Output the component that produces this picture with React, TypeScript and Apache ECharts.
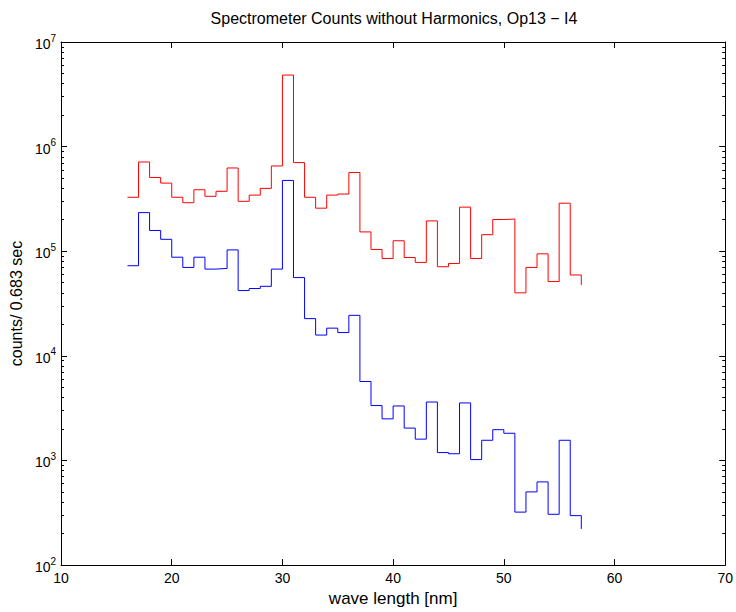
import React, { useEffect, useRef } from "react";
import * as echarts from "echarts";

// wavelength bin edges [nm]
const wavelengths = [
  16, 17, 18, 19, 20, 21, 22, 23, 24, 25, 26, 27, 28, 29, 30, 31, 32, 33, 34, 35, 36,
  37, 38, 39, 40, 41, 42, 43, 44, 45, 46, 47, 48, 49, 50, 51, 52, 53, 54, 55, 56, 57,
];

// red trace
const redCounts = [
  3.28e5, 7.13e5, 5.07e5, 4.48e5, 3.28e5, 2.91e5, 3.87e5, 3.35e5, 3.74e5, 6.25e5, 3.0e5,
  3.44e5, 3.99e5, 6.53e5, 4.83e6, 7.04e5, 3.28e5, 2.58e5, 3.44e5, 3.52e5, 5.66e5,
  1.53e5, 1.04e5, 8.53e4, 1.26e5, 8.71e4, 7.82e4, 1.95e5, 7.11e4, 7.64e4, 2.64e5,
  8.53e4, 1.44e5, 2.01e5, 2.03e5, 4.0e4, 7.0e4, 9.45e4, 5.13e4, 2.88e5, 5.93e4, 4.76e4,
];

// blue trace
const blueCounts = [
  7.27e4, 2.34e5, 1.58e5, 1.3e5, 8.77e4, 7.0e4, 8.77e4, 6.75e4, 6.85e4, 1.03e5, 4.21e4,
  4.4e4, 4.62e4, 6.75e4, 4.75e5, 5.6e4, 2.27e4, 1.58e4, 1.84e4, 1.67e4, 2.44e4,
  5.69e3, 3.35e3, 2.5e3, 3.32e3, 2.04e3, 1.6e3, 3.62e3, 1.19e3, 1.16e3, 3.55e3,
  1.02e3, 1.56e3, 1.97e3, 1.82e3, 321, 501, 624, 306, 1.56e3, 297, 222,
];

const xTicks = [10, 20, 30, 40, 50, 60, 70];
const yDecades = [1e2, 1e3, 1e4, 1e5, 1e6, 1e7];
const minorMultipliers = [2, 3, 4, 5, 6, 7, 8, 9];
const yMinorTicks = yDecades
  .slice(0, -1)
  .flatMap((d) => minorMultipliers.map((m) => d * m));

const titleText = "Spectrometer Counts without Harmonics, Op13 \u2212 I4";
const xName = "wave length [nm]";
const yName = "counts/ 0.683 sec";

const FONT = "'Liberation Sans', Arial, Helvetica, sans-serif";
const AXIS_COLOR = "#000000";

export default function App() {
  const ref = useRef<HTMLDivElement>(null);

  useEffect(() => {
    if (!ref.current) return;
    const chart = echarts.init(ref.current, undefined, { renderer: "svg" });

    const gridLeft = 61;
    const gridRight = 9;
    const gridTop = 42;
    const gridBottom = 43;

    const baseY = {
      type: "log" as const,
      logBase: 10,
      min: 100,
      max: 1e7,
      splitLine: { show: false },
      minorTick: { show: false },
    };

    const option: any = {
      animation: false,
      backgroundColor: "#ffffff",
      grid: {
        left: gridLeft,
        right: gridRight,
        top: gridTop,
        bottom: gridBottom,
        containLabel: false,
      },
      graphic: [
        {
          type: "text",
          x: gridLeft + (736 - gridLeft - gridRight) / 2,
          y: 18,
          style: {
            text: titleText,
            font: `16px ${FONT}`,
            fill: "#000",
            align: "center",
            verticalAlign: "middle",
          },
        },
      ],
      xAxis: [
        {
          type: "value",
          position: "bottom",
          min: 10,
          max: 70,
          interval: 10,
          name: xName,
          nameLocation: "middle",
          nameGap: 23,
          nameTextStyle: { fontFamily: FONT, fontSize: 17, color: "#000" },
          axisLine: { show: true, onZero: false, lineStyle: { color: AXIS_COLOR, width: 1 } },
          axisTick: { show: true, inside: true, length: 6, lineStyle: { color: AXIS_COLOR } },
          axisLabel: {
            show: true,
            margin: 6,
            fontFamily: FONT,
            fontSize: 14,
            color: "#000",
            customValues: xTicks,
          },
          splitLine: { show: false },
        },
        {
          type: "value",
          position: "top",
          min: 10,
          max: 70,
          interval: 10,
          axisLine: { show: true, onZero: false, lineStyle: { color: AXIS_COLOR, width: 1 } },
          axisTick: { show: true, inside: true, length: 6, lineStyle: { color: AXIS_COLOR } },
          axisLabel: { show: false },
          splitLine: { show: false },
        },
      ],
      yAxis: [
        {
          ...baseY,
          position: "left",
          name: yName,
          nameLocation: "middle",
          nameGap: 33,
          nameRotate: 90,
          nameTextStyle: { fontFamily: FONT, fontSize: 16, color: "#000" },
          axisLine: { show: true, onZero: false, lineStyle: { color: AXIS_COLOR, width: 1 } },
          axisTick: {
            show: true,
            inside: true,
            length: 6,
            customValues: yDecades,
            lineStyle: { color: AXIS_COLOR },
          },
          axisLabel: {
            show: true,
            margin: 5,
            customValues: yDecades,
            formatter: (v: number) => `{b|10}{s|${Math.round(Math.log10(v))}}`,
            rich: {
              b: { fontFamily: FONT, fontSize: 14, color: "#000", lineHeight: 18, verticalAlign: "bottom" },
              s: { fontFamily: FONT, fontSize: 10, color: "#000", lineHeight: 18, verticalAlign: "top" },
            },
          },
        },
        {
          ...baseY,
          position: "left",
          axisLine: { show: false },
          axisTick: {
            show: true,
            inside: true,
            length: 3,
            customValues: yMinorTicks,
            lineStyle: { color: AXIS_COLOR },
          },
          axisLabel: { show: false },
        },
        {
          ...baseY,
          position: "right",
          axisLine: { show: true, onZero: false, lineStyle: { color: AXIS_COLOR, width: 1 } },
          axisTick: {
            show: true,
            inside: true,
            length: 6,
            customValues: yDecades,
            lineStyle: { color: AXIS_COLOR },
          },
          axisLabel: { show: false },
        },
        {
          ...baseY,
          position: "right",
          axisLine: { show: false },
          axisTick: {
            show: true,
            inside: true,
            length: 3,
            customValues: yMinorTicks,
            lineStyle: { color: AXIS_COLOR },
          },
          axisLabel: { show: false },
        },
      ],
      series: [
        {
          name: "red",
          type: "line",
          step: "end",
          xAxisIndex: 0,
          yAxisIndex: 0,
          symbol: "none",
          showSymbol: false,
          lineStyle: { color: "#ff0000", width: 1 },
          itemStyle: { color: "#ff0000" },
          data: wavelengths.map((w, i) => [w, redCounts[i]]),
        },
        {
          name: "blue",
          type: "line",
          step: "end",
          xAxisIndex: 0,
          yAxisIndex: 0,
          symbol: "none",
          showSymbol: false,
          lineStyle: { color: "#0000ff", width: 1 },
          itemStyle: { color: "#0000ff" },
          data: wavelengths.map((w, i) => [w, blueCounts[i]]),
        },
      ],
    };

    chart.setOption(option);
    return () => chart.dispose();
  }, []);

  return (
    <div
      style={{ position: "fixed", left: 0, top: 0, width: 736, height: 612, background: "#fff" }}
    >
      <div ref={ref} style={{ width: 736, height: 612 }} />
    </div>
  );
}
